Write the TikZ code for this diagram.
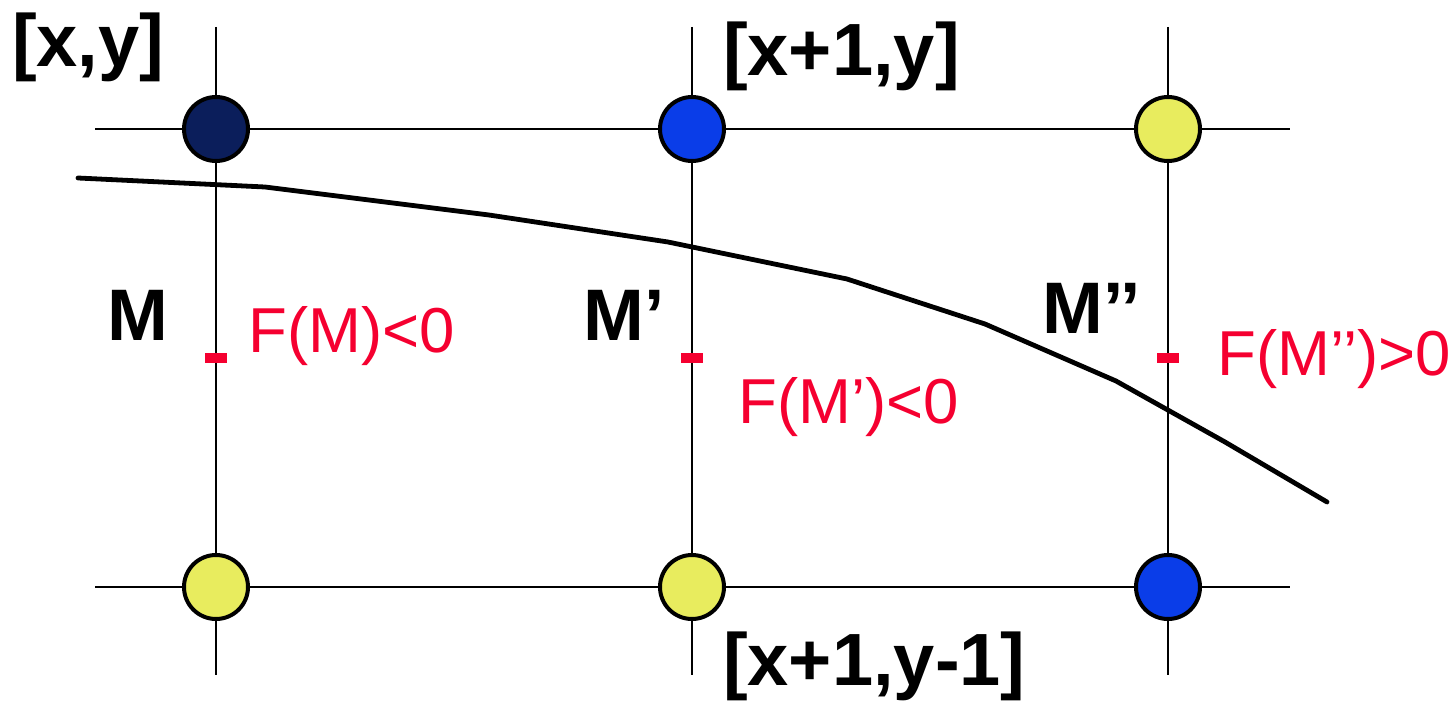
\documentclass[tikz,border=0pt]{standalone}
\usepackage{fontspec}
\setmainfont{Liberation Sans}
\definecolor{navy}{HTML}{0B1E5B}
\definecolor{vblue}{HTML}{0A3DE8}
\definecolor{vyellow}{HTML}{E8EC5E}
\definecolor{vred}{HTML}{F50030}
\tikzset{
  gridline/.style={line width=2.4pt, black},
  pixel/.style={circle, draw=black, line width=4pt, minimum size=64pt, inner sep=0pt},
  tick/.style={rectangle, fill=vred, minimum width=22pt, minimum height=10pt, inner sep=0pt},
  coordlab/.style={anchor=base west, inner sep=0pt, font=\fontsize{74}{88}\selectfont\bfseries},
  mlab/.style={anchor=base west, inner sep=0pt, font=\fontsize{73}{88}\selectfont\bfseries},
  flab/.style={anchor=base west, inner sep=0pt, text=vred, font=\fontsize{63.5}{76}\selectfont},
  curve/.style={line width=4.8pt, line cap=round, line join=round}
}
\begin{document}
\begin{tikzpicture}[x=1pt, y=-1pt]
\useasboundingbox (0,0) rectangle (1456,706);
% grid line ends
\coordinate (v1t) at (216,27);  \coordinate (v1b) at (216,675);
\coordinate (v2t) at (692,27);  \coordinate (v2b) at (692,675);
\coordinate (v3t) at (1168,27); \coordinate (v3b) at (1168,675);
\coordinate (h1l) at (95,129);  \coordinate (h1r) at (1290,129);
\coordinate (h2l) at (95,587);  \coordinate (h2r) at (1290,587);
\draw[gridline] (v1t) -- (v1b);
\draw[gridline] (v2t) -- (v2b);
\draw[gridline] (v3t) -- (v3b);
\draw[gridline] (h1l) -- (h1r);
\draw[gridline] (h2l) -- (h2r);
% curve
\draw[curve] (78,178) -- (265,187) -- (489,215) -- (668,242) -- (847,279)
  -- (985,324) -- (1116,381) -- (1225,442) -- (1327,502);
% pixels
\node[pixel, fill=navy]    (p11) at (216,129) {};
\node[pixel, fill=vblue]   (p21) at (692,129) {};
\node[pixel, fill=vyellow] (p31) at (1168,129) {};
\node[pixel, fill=vyellow] (p12) at (216,587) {};
\node[pixel, fill=vyellow] (p22) at (692,587) {};
\node[pixel, fill=vblue]   (p32) at (1168,587) {};
% midpoints
\node[tick] (m1) at (216,358) {};
\node[tick] (m2) at (692,358) {};
\node[tick] (m3) at (1168,358) {};
% labels
\node[coordlab] (lxy) at (12,67) {[x,y]};
\node[coordlab] (lx1y) at (723,76) {[x+1,y]};
\node[coordlab] (lx1y1) at (723,685) {[x+1,y-1]};
\node[mlab] (lm1) at (107,340) {M};
\node[mlab] (lm2) at (583,340) {M’};
\node[mlab] (lm3) at (1042,333) {M’’};
\node[flab] (f1) at (248,352) {F(M)<0};
\node[flab] (f2) at (738,423) {F(M’)<0};
\node[flab] (f3) at (1217,375) {F(M’’)>0};
\end{tikzpicture}
\end{document}
